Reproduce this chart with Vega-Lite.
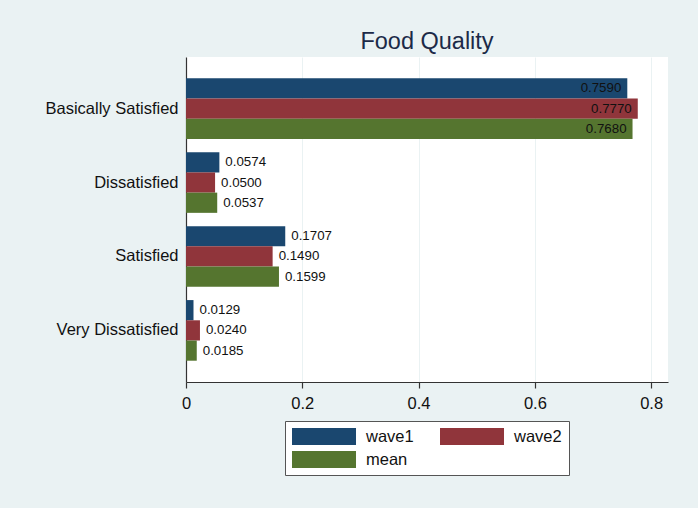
{
  "$schema": "https://vega.github.io/schema/vega-lite/v6.json",
  "autosize": {"type": "none"},
  "width": 482,
  "height": 325,
  "padding": {"left": 186, "top": 57, "right": 30, "bottom": 126},
  "background": "#eaf2f3",
  "title": {
    "text": "Food Quality",
    "fontSize": 23.5,
    "font": "Liberation Sans",
    "fontWeight": "normal",
    "color": "#1c2a48",
    "anchor": "middle",
    "frame": "group",
    "offset": 4
  },
  "config": {
    "font": "Liberation Sans",
    "view": {"fill": "white", "stroke": null}
  },
  "data": {
    "values": [
      {"category": "Basically Satisfied", "series": "wave1", "value": 0.7590},
      {"category": "Basically Satisfied", "series": "wave2", "value": 0.7770},
      {"category": "Basically Satisfied", "series": "mean", "value": 0.7680},
      {"category": "Dissatisfied", "series": "wave1", "value": 0.0574},
      {"category": "Dissatisfied", "series": "wave2", "value": 0.0500},
      {"category": "Dissatisfied", "series": "mean", "value": 0.0537},
      {"category": "Satisfied", "series": "wave1", "value": 0.1707},
      {"category": "Satisfied", "series": "wave2", "value": 0.1490},
      {"category": "Satisfied", "series": "mean", "value": 0.1599},
      {"category": "Very Dissatisfied", "series": "wave1", "value": 0.0129},
      {"category": "Very Dissatisfied", "series": "wave2", "value": 0.0240},
      {"category": "Very Dissatisfied", "series": "mean", "value": 0.0185}
    ]
  },
  "encoding": {
    "y": {
      "field": "category",
      "type": "nominal",
      "sort": ["Basically Satisfied", "Dissatisfied", "Satisfied", "Very Dissatisfied"],
      "scale": {"paddingInner": 0.18, "paddingOuter": 0.288},
      "axis": {
        "title": null,
        "ticks": false,
        "domainColor": "#333333",
        "domainWidth": 1.2,
        "labelFontSize": 16.5,
        "labelColor": "#111111",
        "labelPadding": 8,
        "labelLimit": 300
      }
    },
    "yOffset": {
      "field": "series",
      "type": "nominal",
      "sort": ["wave1", "wave2", "mean"],
      "scale": {"paddingInner": 0, "paddingOuter": 0}
    },
    "x": {
      "field": "value",
      "type": "quantitative",
      "scale": {"domain": [0, 0.829], "nice": false, "zero": true},
      "axis": {
        "title": null,
        "values": [0, 0.2, 0.4, 0.6, 0.8],
        "format": "~g",
        "grid": true,
        "gridColor": "#eaf2f3",
        "gridWidth": 1,
        "domainColor": "#333333",
        "domainWidth": 1.2,
        "tickColor": "#333333",
        "tickSize": 6,
        "tickWidth": 1.2,
        "labelFontSize": 16.5,
        "labelColor": "#111111",
        "labelPadding": 7,
        "labelFlush": false,
        "labelOverlap": false
      }
    }
  },
  "layer": [
    {
      "mark": {"type": "bar", "stroke": null},
      "encoding": {
        "color": {
          "field": "series",
          "type": "nominal",
          "sort": ["wave1", "wave2", "mean"],
          "scale": {"domain": ["wave1", "wave2", "mean"], "range": ["#1a476f", "#90353b", "#55752f"]},
          "legend": {
            "title": null,
            "orient": "none",
            "legendX": 99,
            "legendY": 364,
            "columns": 2,
            "direction": "horizontal",
            "columnPadding": 26,
            "rowPadding": 6,
            "padding": 7,
            "fillColor": "white",
            "strokeColor": "#555555",
            "symbolType": "M-1,-1H6.53V1H-1Z",
            "symbolSize": 289,
            "symbolStrokeWidth": 0,
            "labelFontSize": 16.5,
            "labelColor": "#111111",
            "labelOffset": 57,
            "labelLimit": 200
          }
        }
      }
    },
    {
      "transform": [{"filter": "datum.value > 0.5"}],
      "mark": {"type": "text", "align": "right", "baseline": "middle", "dx": -6, "fontSize": 13.3, "color": "#111111"},
      "encoding": {
        "text": {"field": "value", "type": "quantitative", "format": ".4f"}
      }
    },
    {
      "transform": [{"filter": "datum.value <= 0.5"}],
      "mark": {"type": "text", "align": "left", "baseline": "middle", "dx": 6, "fontSize": 13.3, "color": "#111111"},
      "encoding": {
        "text": {"field": "value", "type": "quantitative", "format": ".4f"}
      }
    }
  ]
}
